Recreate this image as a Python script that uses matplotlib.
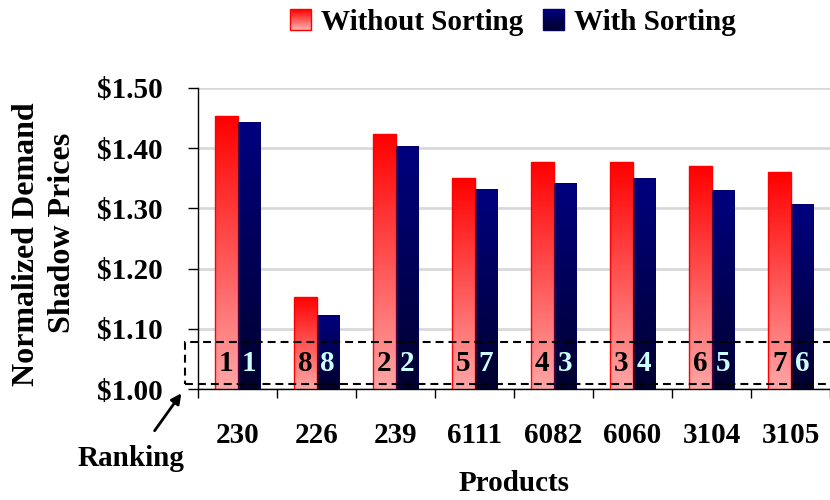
import numpy as np
import matplotlib
matplotlib.use("Agg")
import matplotlib.pyplot as plt
from matplotlib.patches import Patch, Rectangle
from matplotlib.colors import LinearSegmentedColormap
from matplotlib.legend_handler import HandlerBase

products = ["230", "226", "239", "6111", "6082", "6060", "3104", "3105"]
without_sorting = [1.453, 1.153, 1.423, 1.350, 1.377, 1.377, 1.370, 1.360]
with_sorting = [1.443, 1.123, 1.403, 1.333, 1.343, 1.350, 1.330, 1.307]
rank_without = [1, 8, 2, 5, 4, 3, 6, 7]
rank_with = [1, 8, 2, 7, 3, 4, 5, 6]
yticks = [1.00, 1.10, 1.20, 1.30, 1.40, 1.50]

plt.rcParams['font.family'] = ['Liberation Serif', 'DejaVu Serif']
plt.rcParams['font.weight'] = 'bold'

FS = 21
fig = plt.figure(figsize=(8.3, 5.0), dpi=100)
ax = fig.add_axes([198/830, 1-389/500, 632/830, 301/500])

x = np.arange(len(products))
w = 0.285
red_cmap = LinearSegmentedColormap.from_list("r", ["#ffa6a6", "#ff0000"])
navy_cmap = LinearSegmentedColormap.from_list("n", ["#00002e", "#000080"])

b1 = ax.bar(x - w/2, without_sorting, w, bottom=0, color="none", edgecolor="#ff0000", linewidth=1, zorder=3)
b2 = ax.bar(x + w/2, with_sorting, w, bottom=0, color="none", edgecolor="#000060", linewidth=0.5, zorder=3)

grad = np.linspace(0, 1, 256).reshape(-1, 1)
for bars, cmap in ((b1, red_cmap), (b2, navy_cmap)):
    for bar in bars:
        x0 = bar.get_x(); bw = bar.get_width(); h = bar.get_height()
        im = ax.imshow(grad, cmap=cmap, aspect='auto', origin='lower',
                       extent=[x0, x0 + bw, 1.0, h], zorder=2)
        im.set_clip_path(bar)

ax.set_xlim(-0.5, len(products) - 0.5)
ax.set_ylim(1.0, 1.5)
ax.set_yticks(yticks)
ax.set_yticklabels([f"${v:.2f}" for v in yticks], fontsize=FS, fontweight='bold')
ax.yaxis.grid(True, color="#d9d9d9", linewidth=2, zorder=0)
ax.set_axisbelow(True)
ax.tick_params(axis='y', direction='out', length=7.2, width=1, pad=18.5)

ax.set_xticks(x)
ax.set_xticklabels(products, fontsize=FS, fontweight='bold')
ax.set_xticks(np.arange(-0.5, len(products) + 0.5, 1), minor=True)
ax.tick_params(axis='x', which='major', length=0, pad=24)
ax.tick_params(axis='x', which='minor', direction='out', length=6.8, width=1)

for s in ("top", "right"):
    ax.spines[s].set_visible(False)
ax.spines['left'].set_linewidth(1)
ax.spines['bottom'].set_linewidth(1)

for i in range(len(products)):
    ax.text(x[i] - w/2, 1.043, str(rank_without[i]), ha='center', va='center',
            fontsize=FS, fontweight='bold', color='black', zorder=5)
    ax.text(x[i] + w/2, 1.043, str(rank_with[i]), ha='center', va='center',
            fontsize=FS, fontweight='bold', color='#ccffff', zorder=5)

# dashed ranking box (figure pixel coordinates)
fw, fh = 830, 500
rect = Rectangle((185/fw, 1-384/fh), (832-185)/fw, (384-342)/fh, transform=fig.transFigure,
                 fill=False, linestyle=(0, (3.8, 2.4)), linewidth=1.5, edgecolor='black', zorder=6)
fig.add_artist(rect)

fig.text(131/fw, 1-458/fh, "Ranking", ha='center', va='center', fontsize=FS, fontweight='bold')
ax.annotate("", xy=(183/fw, 1-391/fh), xycoords='figure fraction',
            xytext=(153/fw, 1-433/fh), textcoords='figure fraction',
            arrowprops=dict(arrowstyle='-|>', color='black', lw=2, mutation_scale=15))

ax.set_xlabel("Products", fontsize=FS, fontweight='bold', labelpad=15)
fig.text(27/fw, 1-244/fh, "Normalized Demand", rotation=90, ha='center', va='center',
         fontsize=23, fontweight='bold')
fig.text(63/fw, 1-233/fh, "Shadow Prices", rotation=90, ha='center', va='center',
         fontsize=23, fontweight='bold')


class GradientHandler(HandlerBase):
    def __init__(self, cmap, edge):
        super().__init__()
        self.cmap = cmap
        self.edge = edge

    def create_artists(self, legend, orig_handle, xdescent, ydescent, width, height, fontsize, trans):
        arts = []
        n = 20
        for k in range(n):
            r = Rectangle((-xdescent, -ydescent + height * k / n), width, height / n + 0.3,
                          facecolor=self.cmap(k / (n - 1)), edgecolor='none', transform=trans)
            arts.append(r)
        arts.append(Rectangle((-xdescent, -ydescent), width, height, facecolor='none',
                              edgecolor=self.edge, linewidth=1, transform=trans))
        return arts


h1 = Patch(facecolor="#ff6a6a")
h2 = Patch(facecolor="#000066")
fig.legend([h1, h2], ["Without Sorting", "With Sorting"], loc='center',
           bbox_to_anchor=(513/fw, 1-22/fh), ncol=2, frameon=False,
           prop={'size': FS, 'weight': 'bold'}, handlelength=0.7, handleheight=0.7,
           handletextpad=0.35, columnspacing=0.7,
           handler_map={h1: GradientHandler(red_cmap, "#ff0000"),
                        h2: GradientHandler(navy_cmap, "#000066")})

fig.savefig("out.png", dpi=100)
